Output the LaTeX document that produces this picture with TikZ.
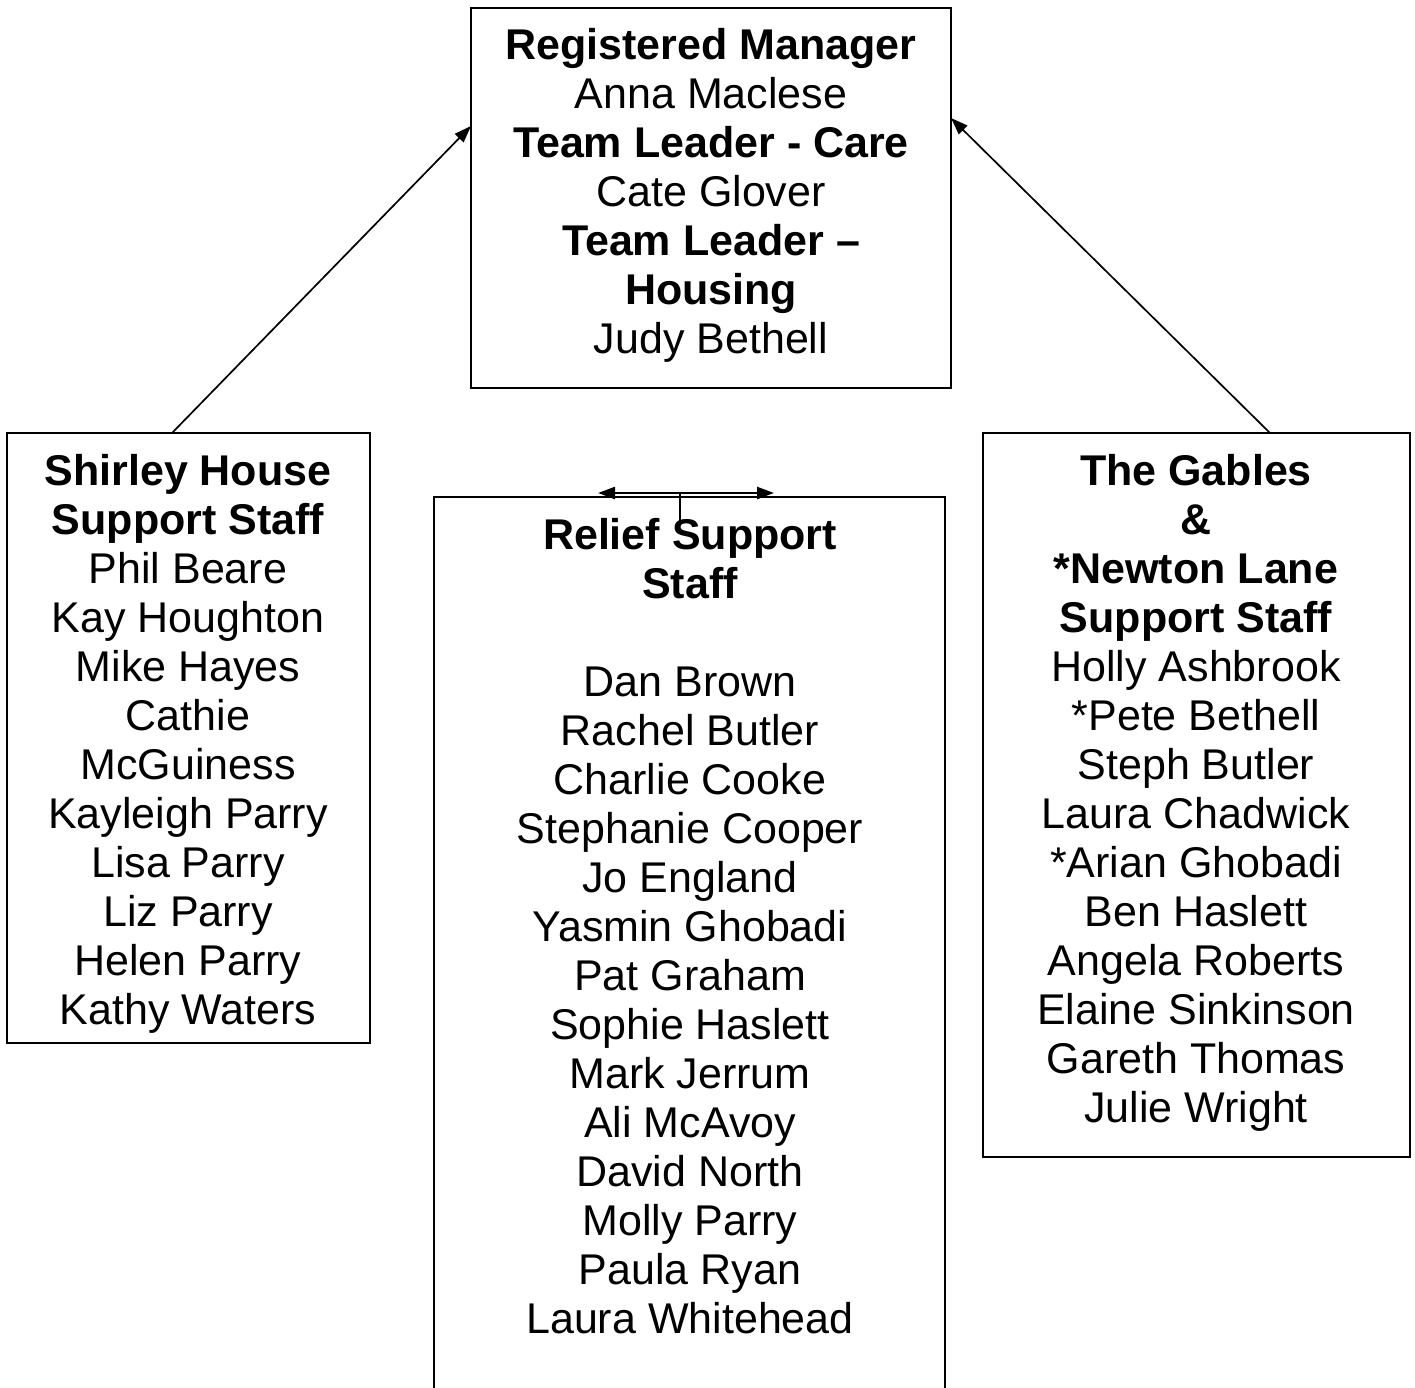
\documentclass[tikz,border=0pt]{standalone}
\usepackage{fontspec}
\setmainfont{Liberation Sans}
\usetikzlibrary{arrows.meta}
\tikzset{
  box/.style={draw, line width=1.7pt, inner sep=0pt},
  txt/.style={align=center, inner sep=0pt, anchor=north, font=\fontsize{43}{49}\selectfont},
  arr/.style={line width=1.7pt, -{Triangle[length=17pt,width=12pt]}},
  darr/.style={line width=2.4pt, {Triangle[length=17pt,width=12pt]}-{Triangle[length=17pt,width=12pt]}}
}
\begin{document}
\begin{tikzpicture}[x=1pt,y=-1pt]
\path[use as bounding box, clip] (0,0) rectangle (1415,1387);
\fill[white] (0,0) rectangle (1415,1387);
% boxes
\node[box, minimum width=480pt, minimum height=380pt] (mgr) at (711,198) {};
\node[box, minimum width=363pt, minimum height=610pt] (shirley) at (188.5,738) {};
\node[box, minimum width=427pt, minimum height=724pt] (gables) at (1196.5,795) {};
\coordinate (rtl) at (434,497);
\coordinate (rtr) at (945,497);
\coordinate (rbl) at (434,1400);
\coordinate (rbr) at (945,1400);
\draw[line width=1.7pt] (rbl) -- (rtl) -- (rtr) -- (rbr);
% texts
\node[txt] (mgrtxt) at (711,28) {\textbf{Registered Manager}\\Anna Maclese\\\textbf{Team Leader - Care}\\Cate Glover\\\textbf{Team Leader –}\\\textbf{Housing}\\Judy Bethell};
\node[txt] (shtxt) at (188,454) {\textbf{Shirley House}\\\textbf{Support Staff}\\Phil Beare\\Kay Houghton\\Mike Hayes\\Cathie\\McGuiness\\Kayleigh Parry\\Lisa Parry\\Liz Parry\\Helen Parry\\Kathy Waters};
\node[txt] (reltxt) at (690,518) {\textbf{Relief Support}\\\textbf{Staff}\\[49pt]Dan Brown\\Rachel Butler\\Charlie Cooke\\Stephanie Cooper\\Jo England\\Yasmin Ghobadi\\Pat Graham\\Sophie Haslett\\Mark Jerrum\\Ali McAvoy\\David North\\Molly Parry\\Paula Ryan\\Laura Whitehead};
\node[txt] (gbtxt) at (1196,454) {\textbf{The Gables}\\\textbf{\&}\\\textbf{*Newton Lane}\\\textbf{Support Staff}\\Holly Ashbrook\\*Pete Bethell\\Steph Butler\\Laura Chadwick\\*Arian Ghobadi\\Ben Haslett\\Angela Roberts\\Elaine Sinkinson\\Gareth Thomas\\Julie Wright};
% connectors
\coordinate (shtop) at (172,433);
\coordinate (gbtop) at (1270,433);
\coordinate (mgrl) at (471,126);
\coordinate (mgrr) at (951,118);
\draw[arr] (shtop) -- (mgrl);
\draw[arr] (gbtop) -- (mgrr);
\coordinate (dl) at (598,493);
\coordinate (dr) at (774,493);
\coordinate (dm) at (680,493);
\coordinate (dmb) at (680,522);
\draw[darr] (dl) -- (dr);
\draw[line width=1.7pt] (dm) -- (dmb);
\end{tikzpicture}
\end{document}
